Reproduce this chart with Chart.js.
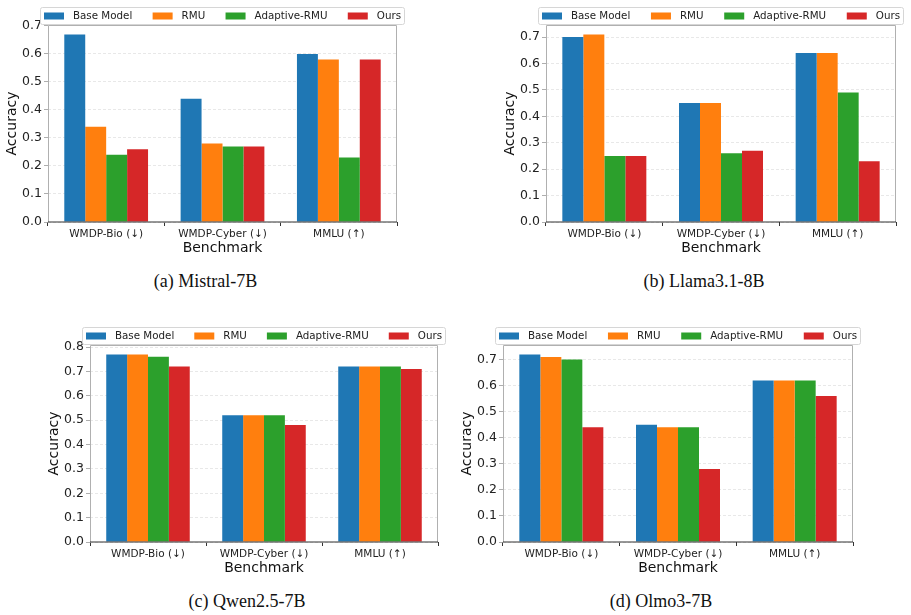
<!DOCTYPE html>
<html lang="en">
<head>
  <meta charset="UTF-8">
  <title>Unlearning accuracy</title>
  <script src="https://cdn.jsdelivr.net/npm/chart.js"></script>
  <style>
    body { margin: 0; background: #fff; }
    #page { position: relative; width: 911px; height: 615px; overflow: hidden; }
    .panel { position: absolute; }
    .caption {
      position: absolute;
      font-family: "Liberation Serif", "Times New Roman", serif;
      font-size: 18px;
      color: #111;
      text-align: center;
      width: 300px;
      line-height: 20px;
    }
  </style>
</head>
<body>
<div id="page"></div>

<script>
// benchmarks and methods
const categories = ['WMDP-Bio (↓)', 'WMDP-Cyber (↓)', 'MMLU (↑)'];
const methods = ['Base Model', 'RMU', 'Adaptive-RMU', 'Ours'];
const colors = ['#1f77b4', '#ff7f0e', '#2ca02c', '#d62728'];

// accuracy per method (rows follow `methods`), columns follow `categories`
const mistralScores = [
  [0.67, 0.44, 0.60],
  [0.34, 0.28, 0.58],
  [0.24, 0.27, 0.23],
  [0.26, 0.27, 0.58]
];
const llamaScores = [
  [0.70, 0.45, 0.64],
  [0.71, 0.45, 0.64],
  [0.25, 0.26, 0.49],
  [0.25, 0.27, 0.23]
];
const qwenScores = [
  [0.77, 0.52, 0.72],
  [0.77, 0.52, 0.72],
  [0.76, 0.52, 0.72],
  [0.72, 0.48, 0.71]
];
const olmoScores = [
  [0.72, 0.45, 0.62],
  [0.71, 0.44, 0.62],
  [0.70, 0.44, 0.62],
  [0.44, 0.28, 0.56]
];

const ticksTo07 = [0, 0.1, 0.2, 0.3, 0.4, 0.5, 0.6, 0.7];
const ticksTo08 = [0, 0.1, 0.2, 0.3, 0.4, 0.5, 0.6, 0.7, 0.8];

// plot rectangles (left, top, right, bottom) in page pixels
const panels = [
  { scores: mistralScores, ticks: ticksTo07, caption: '(a) Mistral-7B',  plot: [48, 25, 397, 222],  capY: 271 },
  { scores: llamaScores,   ticks: ticksTo07, caption: '(b) Llama3.1-8B', plot: [546, 25, 896, 222], capY: 271 },
  { scores: qwenScores,    ticks: ticksTo08, caption: '(c) Qwen2.5-7B',  plot: [90, 345, 438, 542], capY: 591 },
  { scores: olmoScores,    ticks: ticksTo07, caption: '(d) Olmo3-7B',    plot: [503, 345, 853, 542], capY: 591 }
];

const Y_AXIS_W = 48;
const X_AXIS_H = 36;
const sans = '"DejaVu Sans", sans-serif';

// spines: light grey on left/top/right, dark bottom
const spinesPlugin = {
  id: 'spines',
  afterDatasetsDraw(chart) {
    const { ctx, chartArea: a } = chart;
    ctx.save();
    ctx.strokeStyle = '#b0b0b0';
    ctx.lineWidth = 1;
    ctx.beginPath();
    ctx.moveTo(a.left + 0.5, a.bottom);
    ctx.lineTo(a.left + 0.5, a.top + 0.5);
    ctx.lineTo(a.right - 0.5, a.top + 0.5);
    ctx.lineTo(a.right - 0.5, a.bottom);
    ctx.stroke();
    ctx.strokeStyle = '#333';
    ctx.lineWidth = 1.2;
    ctx.beginPath();
    ctx.moveTo(a.left, a.bottom);
    ctx.lineTo(a.right, a.bottom);
    ctx.stroke();
    ctx.restore();
  }
};

// matplotlib style legend, expanded over the top of the axes
const legendPlugin = {
  id: 'mplLegend',
  afterDraw(chart) {
    const { ctx, chartArea: a } = chart;
    const boxL = a.left - 8, boxW = (a.right - a.left) + 16;
    const boxH = 18, boxT = a.top - boxH;
    const pad = 4, handleW = 20, handleH = 7, gap = 9;
    ctx.save();
    ctx.font = '10.3px ' + sans;
    const widths = methods.map(m => handleW + gap + ctx.measureText(m).width);
    const total = widths.reduce((s, w) => s + w, 0);
    const sep = (boxW - 2 * pad - total) / (methods.length - 1);

    ctx.fillStyle = 'rgba(255,255,255,0.9)';
    ctx.strokeStyle = '#d6d6d6';
    ctx.lineWidth = 1;
    ctx.beginPath();
    ctx.roundRect(boxL + 0.5, boxT + 0.5, boxW - 1, boxH - 1, 2);
    ctx.fill();
    ctx.stroke();

    let x = boxL + pad;
    const cy = boxT + boxH / 2;
    methods.forEach((m, i) => {
      ctx.fillStyle = colors[i];
      ctx.fillRect(x, cy - handleH / 2, handleW, handleH);
      ctx.fillStyle = '#222';
      ctx.textBaseline = 'middle';
      ctx.textAlign = 'left';
      ctx.fillText(m, x + handleW + gap, cy + 0.5);
      x += widths[i] + sep;
    });
    ctx.restore();
  }
};

const page = document.getElementById('page');

panels.forEach(p => {
  const [pl, pt, pr, pb] = p.plot;
  const cx = pl - Y_AXIS_W;
  const cy = pt - 25;
  const cw = pr - cx + 12;
  const ch = pb - cy + X_AXIS_H + 6;

  const holder = document.createElement('div');
  holder.className = 'panel';
  holder.style.left = cx + 'px';
  holder.style.top = cy + 'px';
  const canvas = document.createElement('canvas');
  canvas.width = cw;
  canvas.height = ch;
  canvas.style.width = cw + 'px';
  canvas.style.height = ch + 'px';
  holder.appendChild(canvas);
  page.appendChild(holder);

  // caption is centred on the whole sub-figure, a little left of the axes centre
  const cap = document.createElement('div');
  cap.className = 'caption';
  cap.textContent = p.caption;
  cap.style.left = ((pl + pr) / 2 - 17 - 150) + 'px';
  cap.style.top = p.capY + 'px';
  page.appendChild(cap);

  // matplotlib auto limit: 5% headroom over the tallest bar
  const yMax = Math.max(...p.scores.flat()) * 1.05;

  new Chart(canvas.getContext('2d'), {
    type: 'bar',
    data: {
      labels: categories,
      datasets: methods.map((m, i) => ({
        label: m,
        data: p.scores[i],
        backgroundColor: colors[i],
        borderWidth: 0,
        categoryPercentage: 0.72,
        barPercentage: 1.0
      }))
    },
    options: {
      responsive: false,
      animation: false,
      devicePixelRatio: 1,
      layout: {
        padding: { left: 0, top: pt - cy, right: cw - (pr - cx), bottom: ch - (pb - cy) - X_AXIS_H }
      },
      plugins: {
        legend: { display: false },
        tooltip: { enabled: false }
      },
      scales: {
        x: {
          offset: true,
          grid: { drawOnChartArea: false, drawTicks: true, tickLength: 4, tickColor: '#333' },
          border: { display: false },
          ticks: { color: '#222', font: { family: sans, size: 10.5 }, padding: 2, maxRotation: 0 },
          title: { display: true, text: 'Benchmark', color: '#111', font: { family: sans, size: 14 }, padding: { top: 0, bottom: 1 } },
          afterFit(scale) { scale.height = X_AXIS_H; }
        },
        y: {
          min: 0,
          max: yMax,
          afterBuildTicks(scale) { scale.ticks = p.ticks.map(v => ({ value: v })); },
          grid: { color: '#e2e2e2', lineWidth: 0.8, tickLength: 4, tickColor: '#999', tickBorderDash: [] },
          border: { display: false, dash: [3, 2] },
          ticks: { color: '#222', font: { family: sans, size: 12.5 }, padding: 2, callback: v => v.toFixed(1) },
          title: { display: true, text: 'Accuracy', color: '#111', font: { family: sans, size: 14 }, padding: { top: 4, bottom: 4 } },
          afterFit(scale) { scale.width = Y_AXIS_W; }
        }
      }
    },
    plugins: [spinesPlugin, legendPlugin]
  });
});
</script>
</body>
</html>
